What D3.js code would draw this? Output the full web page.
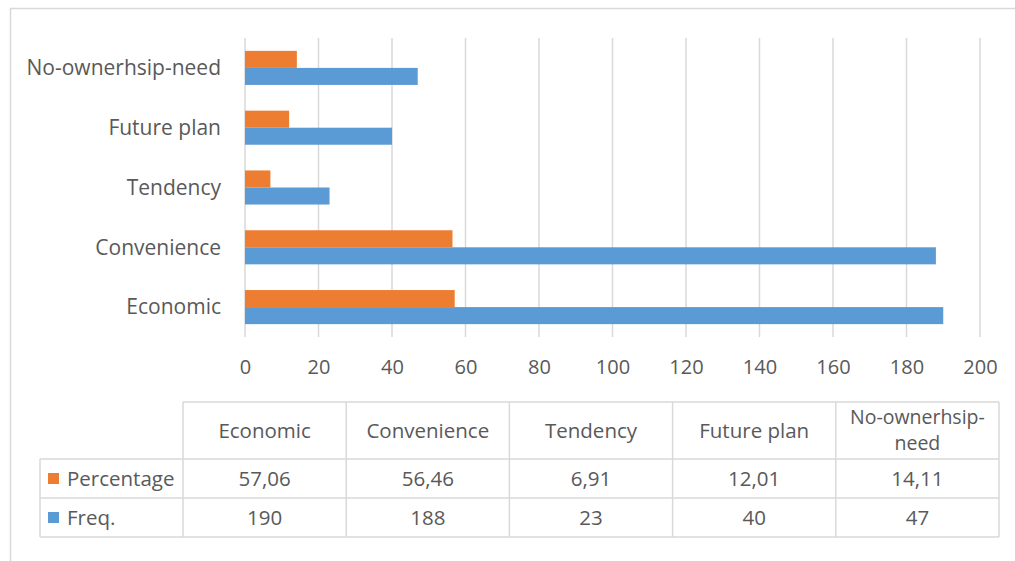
<!DOCTYPE html>
<html><head><meta charset="utf-8">
<script src="https://cdn.jsdelivr.net/npm/d3@7"></script>
<style>body{margin:0;background:#fff}svg{display:block;font-family:"Open Sans",sans-serif}</style>
</head><body><svg id="c" width="1015" height="561"></svg>
<script>
const categories = ["Economic","Convenience","Tendency","Future plan","No-ownerhsip-need"];
const percentage = [57.06,56.46,6.91,12.01,14.11];
const percentageLabels = ["57,06","56,46","6,91","12,01","14,11"];
const freq = [190,188,23,40,47];
const xTicks = [0,20,40,60,80,100,120,140,160,180,200];
const seriesNames = ["Percentage","Freq."];
const colors = {"Percentage":"#ED7D31","Freq.":"#5B9BD5"};

const svg = d3.select("#c");
const txt = "#595959", grid = "#d9d9d9";

svg.append("path").attr("d","M10.5,561 V8.5 H1015").attr("fill","none").attr("stroke",grid).attr("stroke-width",1.5);

const x = d3.scaleLinear().domain([0,200]).range([245,980]);
const y = d3.scaleBand().domain(categories.slice().reverse()).range([38,337]).paddingInner(0.43).paddingOuter(0.215);
const sub = d3.scaleBand().domain(seriesNames).range([0,y.bandwidth()]);

svg.append("g").selectAll("line").data(xTicks).join("line")
 .attr("x1",d=>x(d)).attr("x2",d=>x(d)).attr("y1",38).attr("y2",337)
 .attr("stroke",grid).attr("stroke-width",1.5);

const rows = categories.map((c,i)=>({c, "Percentage":percentage[i], "Freq.":freq[i]}));
const g = svg.append("g");
rows.forEach(r=>{
  seriesNames.forEach(s=>{
    g.append("rect").attr("x",x(0)).attr("y",y(r.c)+sub(s)).attr("width",x(r[s])-x(0)).attr("height",sub.bandwidth()).attr("fill",colors[s]);
  });
});

const xAxis = d3.axisBottom(x).tickValues(xTicks).tickSize(0).tickPadding(0);
const ax = svg.append("g").attr("transform","translate(0,374)").call(xAxis);
ax.select(".domain").remove();
ax.selectAll("text").attr("fill",txt).attr("font-size",20).attr("font-family","Open Sans").attr("dy",0);

const yAxis = d3.axisLeft(y).tickSize(0).tickPadding(0);
const ay = svg.append("g").attr("transform","translate(221,0)").call(yAxis);
ay.select(".domain").remove();
ay.selectAll("text").attr("fill",txt).attr("font-size",21).attr("font-family","Open Sans").attr("dy","0.35em");

// data table
const colX = d3.scaleBand().domain(categories).range([183,999]);
const rowY = [402,459,498,537];
const tb = svg.append("g").attr("stroke",grid).attr("stroke-width",1.5).attr("fill","none");
tb.append("line").attr("x1",183).attr("x2",999).attr("y1",rowY[0]).attr("y2",rowY[0]);
rowY.slice(1).forEach(yy=>tb.append("line").attr("x1",40).attr("x2",999).attr("y1",yy).attr("y2",yy));
tb.append("line").attr("x1",40).attr("x2",40).attr("y1",rowY[1]).attr("y2",rowY[3]);
categories.forEach(c=>tb.append("line").attr("x1",colX(c)).attr("x2",colX(c)).attr("y1",rowY[0]).attr("y2",rowY[3]));
tb.append("line").attr("x1",999).attr("x2",999).attr("y1",rowY[0]).attr("y2",rowY[3]);

const tt = svg.append("g").attr("fill",txt).attr("font-size",20.5).attr("text-anchor","middle");
categories.forEach(c=>{
  const cx = colX(c)+colX.bandwidth()/2;
  const parts = c==="No-ownerhsip-need" ? ["No-ownerhsip-","need"] : [c];
  const mid = (rowY[0]+rowY[1])/2;
  parts.forEach((p,i)=>tt.append("text").attr("x",cx)
    .attr("y",mid + (i-(parts.length-1)/2)*26).attr("dy","0.35em")
    .attr("font-size",parts.length>1?19.5:20.5).text(p));
});
const seriesVals = {"Percentage":percentageLabels,"Freq.":freq.map(String)};
seriesNames.forEach((s,ri)=>{
  const cy = (rowY[ri+1]+rowY[ri+2])/2;
  seriesVals[s].forEach((v,i)=>tt.append("text").attr("x",colX(categories[i])+colX.bandwidth()/2).attr("y",cy).attr("dy","0.35em").text(v));
  svg.append("rect").attr("x",48).attr("y",cy-5.5).attr("width",11).attr("height",11).attr("fill",colors[s]);
  svg.append("text").attr("x",67).attr("y",cy).attr("dy","0.35em").attr("fill",txt).attr("font-size",20.5).text(s);
});
</script></body></html>
